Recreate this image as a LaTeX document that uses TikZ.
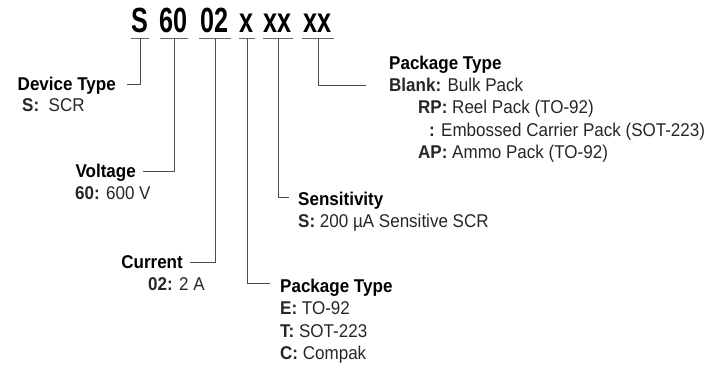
\documentclass[tikz,border=0pt]{standalone}
\usepackage{fontspec}
\setmainfont{Liberation Sans}[FakeStretch=0.92]
\newfontfamily\codefont{Liberation Sans}[FakeStretch=0.72]
\usetikzlibrary{positioning}

\begin{document}
\begin{tikzpicture}[
  x=1pt, y=1pt,
  font=\fontsize{18.5}{22}\selectfont,
  code/.style={font=\codefont\fontsize{35}{40}\selectfont\bfseries, inner xsep=0pt,
               inner ysep=5pt, text height=25pt, text depth=0pt, anchor=base},
  uline/.style={line width=0.9pt, black!60},
  lead/.style={line width=0.9pt, black!70},
  head/.style={font=\fontsize{18.5}{22}\selectfont\bfseries, inner sep=0pt,
               text height=13pt, text depth=0pt},
  item/.style={inner sep=0pt, text height=13pt, text depth=0pt, text=black!85},
  node distance=9pt,
]
  \useasboundingbox (0,0) rectangle (707,-379);

  % part number
  \node[code, minimum width=16pt] (cS)  at (140,-33) {S};
  \node[code, minimum width=27pt] (cV)  at (174,-33) {60};
  \node[code, minimum width=32pt] (cI)  at (215,-33) {02};
  \node[code, minimum width=16pt] (cP)  at (247,-33) {x};
  \node[code, minimum width=30pt] (cSe) at (278,-33) {xx};
  \node[code, minimum width=31pt] (cPk) at (318,-33) {xx};
  \foreach \c in {cS,cV,cI,cP,cSe,cPk}
    \draw[uline] (\c.south west) -- (\c.south east);

  % bends of the leaders
  \coordinate (kDev) at (127,-84);
  \coordinate (kV)   at (143,-171);
  \coordinate (kI)   at (190,-262);
  \coordinate (kP)   at (270,-283);
  \coordinate (kSe)  at (289,-197);
  \coordinate (kPk)  at (366,-85);

  \draw[lead] (cS.south)  |- (kDev);
  \draw[lead] (cV.south)  |- (kV);
  \draw[lead] (cI.south)  |- (kI);
  \draw[lead] (cP.south)  |- (kP);
  \draw[lead] (cSe.south) |- (kSe);
  \draw[lead] (cPk.south) |- (kPk);

  % left side
  \node[head, left=11pt of kDev] (dev) {Device Type};
  \node[item, anchor=west] (devS) at (22,-105) {\textbf{S:}\ \ SCR};
  \node[head, left=7pt of kV] (vol) {Voltage};
  \node[item, anchor=west] (volS) at (75,-193) {\textbf{60:} 600 V};
  \node[head, left=7pt of kI] (cur) {Current};
  \node[item, anchor=west] (curS) at (148,-284) {\textbf{02:} 2 A};

  % right side
  \node[head, right=9pt of kSe, yshift=-2pt] (sen) {Sensitivity};
  \node[item, below right=9pt and 0pt of sen.south west] (senS)
    {\textbf{S:} 200 µA Sensitive SCR};

  \node[head, right=10pt of kP, yshift=-3pt] (pkg) {Package Type};
  \node[item, below right=9pt and 0pt of pkg.south west] (pE) {\textbf{E:} TO-92};
  \node[item, below right=9pt and 0pt of pE.south west] (pT) {\textbf{T:} SOT-223};
  \node[item, below right=9pt and 0pt of pT.south west] (pC) {\textbf{C:} Compak};

  \node[item, right=23pt of kPk] (blank) {\textbf{Blank:} Bulk Pack};
  \node[head, above right=9pt and 0pt of blank.north west] (pkh) {Package Type};
  \node[item, below right=9pt and 29pt of blank.south west] (rp)
    {\textbf{RP:} Reel Pack (TO-92)};
  \node[item, below right=9pt and 11pt of rp.south west] (emb)
    {\textbf{:} Embossed Carrier Pack (SOT-223)};
  \node[item, below right=31pt and 0pt of rp.south west] (ap)
    {\textbf{AP:} Ammo Pack (TO-92)};
\end{tikzpicture}
\end{document}
